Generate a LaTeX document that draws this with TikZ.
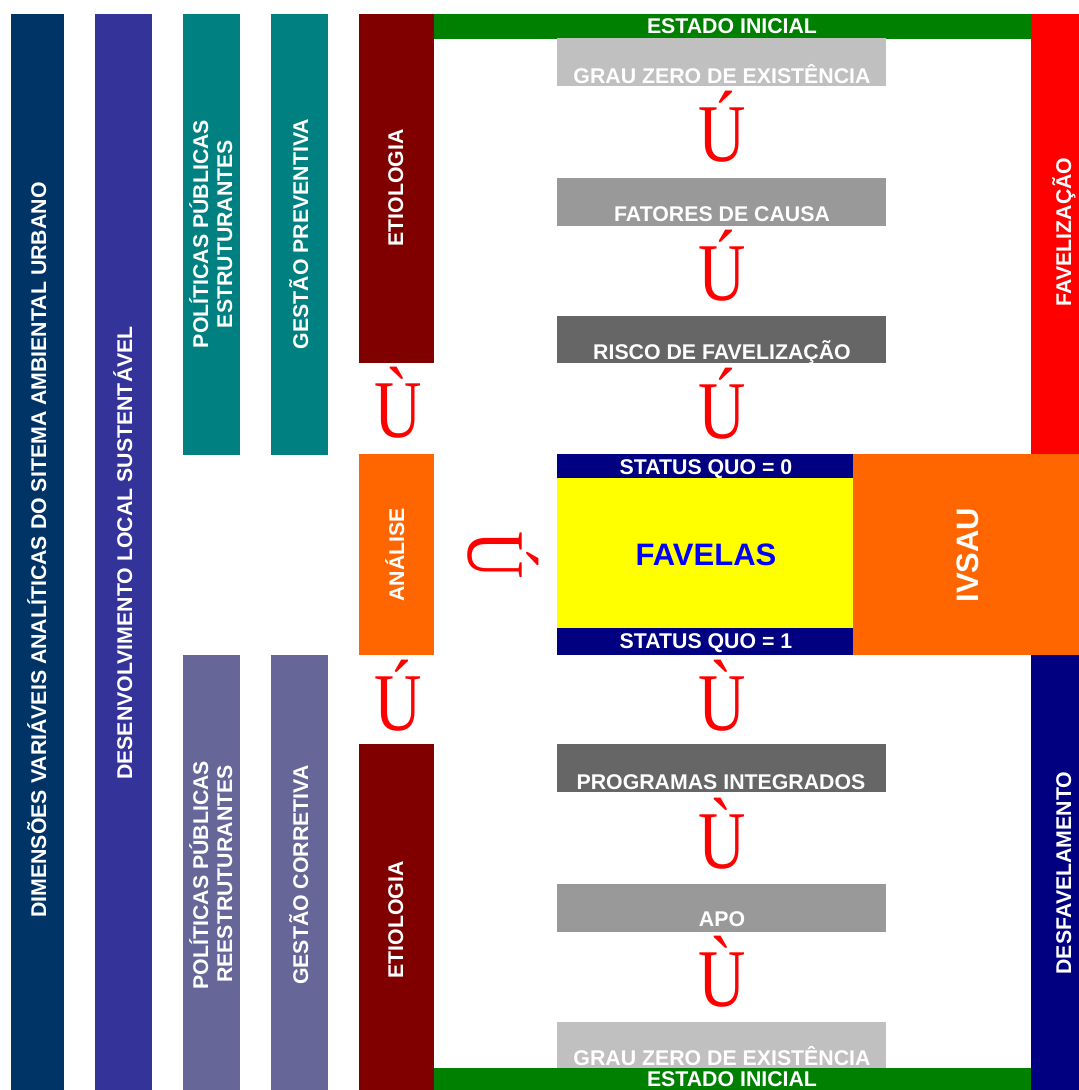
\documentclass[tikz,border=0pt]{standalone}
\usepackage{fontspec}
\setmainfont{Liberation Sans}
\newfontfamily\setafont{Liberation Serif}
\definecolor{dimcol}{HTML}{003366}
\definecolor{dlscol}{HTML}{333399}
\definecolor{tealcol}{HTML}{008080}
\definecolor{lilcol}{HTML}{666699}
\definecolor{etiocol}{HTML}{800000}
\definecolor{orgcol}{HTML}{FF6600}
\definecolor{inicol}{HTML}{008000}
\definecolor{navycol}{HTML}{000080}
\definecolor{grayA}{HTML}{C0C0C0}
\definecolor{grayB}{HTML}{999999}
\definecolor{grayC}{HTML}{666666}
\definecolor{favcol}{HTML}{FFFF00}
\definecolor{favtxt}{HTML}{0000FF}
\begin{document}
\begin{tikzpicture}[x=1pt,y=-1pt,
    lbl/.style={text=white,font=\bfseries\fontsize{21.3}{25}\selectfont,inner sep=0pt,anchor=base},
    vlbl/.style={lbl,rotate=90},
    seta/.style={text=red,font=\setafont\fontsize{82}{82}\selectfont,inner sep=0pt,anchor=base,xscale=0.8}]
    \useasboundingbox (0,0) rectangle (1079,1090);

    % left columns
    \fill[dimcol] (11,14) rectangle (64,1090);
    \fill[dlscol] (95,14) rectangle (152,1090);
    \fill[tealcol] (183,14) rectangle (240,455);
    \fill[tealcol] (271,14) rectangle (328,455);
    \fill[lilcol] (183,655) rectangle (240,1090);
    \fill[lilcol] (271,655) rectangle (328,1090);
    \fill[etiocol] (359,14) rectangle (434,363);
    \fill[orgcol] (359,454) rectangle (434,655);
    \fill[etiocol] (359,744) rectangle (434,1090);

    \node[vlbl] (dim) at (46,550) {DIMENSÕES VARIÁVEIS ANALÍTICAS DO SITEMA AMBIENTAL URBANO};
    \node[vlbl] (dls) at (132,553) {DESENVOLVIMENTO LOCAL SUSTENTÁVEL};
    \node[vlbl] (ppe1) at (208,234) {POLÍTICAS PÚBLICAS};
    \node[vlbl] (ppe2) at (232,234) {ESTRUTURANTES};
    \node[vlbl] (gprev) at (308,234) {GESTÃO PREVENTIVA};
    \node[vlbl] (ppr1) at (208,875) {POLÍTICAS PÚBLICAS};
    \node[vlbl] (ppr2) at (232,874) {REESTRUTURANTES};
    \node[vlbl] (gcorr) at (308,875) {GESTÃO CORRETIVA};
    \node[vlbl] (etio1) at (403,188) {ETIOLOGIA};
    \node[vlbl] (analise) at (404,555) {ANÁLISE};
    \node[vlbl] (etio2) at (403,920) {ETIOLOGIA};

    % right side bars
    \fill[inicol] (434,14) rectangle (1031,39);
    \fill[inicol] (434,1068) rectangle (1031,1090);
    \fill[red] (1031,14) rectangle (1079,454);
    \fill[navycol] (1031,655) rectangle (1079,1090);
    \node[lbl] (ini1) at (732,33) {ESTADO INICIAL};
    \node[vlbl] (favz) at (1071,232) {FAVELIZAÇÃO};
    \node[vlbl] (desf) at (1071,873) {DESFAVELAMENTO};

    % central boxes
    \fill[grayA] (557,38) rectangle (886,86);
    \fill[grayB] (557,178) rectangle (886,226);
    \fill[grayC] (557,316) rectangle (886,363);
    \fill[grayC] (557,744) rectangle (886,792);
    \fill[grayB] (557,884) rectangle (886,932);
    \fill[grayA] (557,1022) rectangle (886,1068);
    \fill[inicol] (557,1068) rectangle (886,1090);
    \node[lbl] (ini2) at (732,1086) {ESTADO INICIAL};
    \node[lbl] (grau1) at (722,83) {GRAU ZERO DE EXISTÊNCIA};
    \node[lbl] (fatores) at (722,221) {FATORES DE CAUSA};
    \node[lbl] (risco) at (722,359) {RISCO DE FAVELIZAÇÃO};
    \node[lbl] (programas) at (721,789) {PROGRAMAS INTEGRADOS};
    \node[lbl] (apo) at (722,926) {APO};
    \node[lbl] (grau2) at (722,1065) {GRAU ZERO DE EXISTÊNCIA};

    % favelas block
    \fill[navycol] (557,454) rectangle (853,478);
    \fill[favcol] (557,478) rectangle (853,628);
    \fill[navycol] (557,628) rectangle (853,655);
    \fill[orgcol] (853,454) rectangle (1079,655);
    \node[lbl] (sq0) at (706,474) {STATUS QUO = 0};
    \node[lbl] (sq1) at (706,648) {STATUS QUO = 1};
    \node[lbl,text=favtxt,font=\bfseries\fontsize{31}{36}\selectfont] (favelas) at (706,565) {FAVELAS};
    \node[vlbl,font=\bfseries\fontsize{31}{36}\selectfont] (ivsau) at (978,555) {IVSAU};

    % setas
    \node[seta] (s1) at (722,161) {Ú};
    \node[seta] (s2) at (722,300) {Ú};
    \node[seta] (s3) at (722,438) {Ú};
    \node[seta] (s4) at (398,437) {Ù};
    \node[rotate=-90,seta] (s5) at (468,555) {Ú};
    \node[seta] (s6) at (398,730) {Ú};
    \node[seta] (s7) at (722,730) {Ù};
    \node[seta] (s8) at (722,868) {Ù};
    \node[seta] (s9) at (722,1006) {Ù};
\end{tikzpicture}
\end{document}
